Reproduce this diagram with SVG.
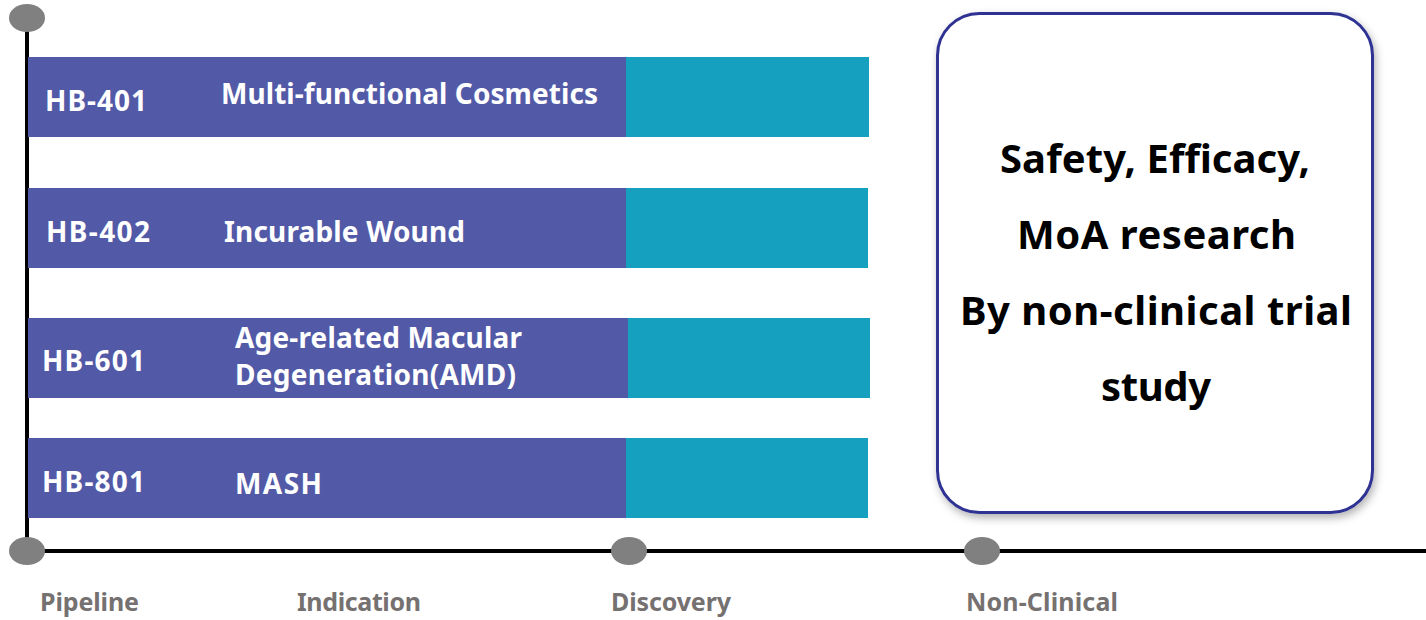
<svg xmlns="http://www.w3.org/2000/svg" width="1426" height="620" viewBox="0 0 1426 620">
<defs>
<style>
.bar{fill:#525AA7}
.teal{fill:#16A0BF}
.code{font-family:"Noto Sans","Open Sans",sans-serif;font-weight:bold;font-size:28px;fill:#fff}
.ind{font-family:"Noto Sans","Open Sans",sans-serif;font-weight:bold;font-size:28px;fill:#fff}
.axis{font-family:"Noto Sans","Open Sans",sans-serif;font-weight:bold;font-size:25px;fill:#767171}
.big{font-family:"Noto Sans","Open Sans",sans-serif;font-weight:bold;font-size:40px;fill:#000}
.dot{fill:#808080}
.line{stroke:#000;stroke-width:4;fill:none}
</style>
<filter id="sh" x="-10%" y="-10%" width="120%" height="120%">
<feDropShadow dx="2" dy="4" stdDeviation="4" flood-color="#000" flood-opacity="0.3"/>
</filter>
</defs>
<rect width="1426" height="620" fill="#fff"/>
<g id="connectors">
<line class="line" x1="27" y1="18" x2="27" y2="551"/>
<line class="line" x1="27" y1="551" x2="1426" y2="551"/>
</g>
<g id="axis-points">
<ellipse class="dot" cx="27" cy="18" rx="18" ry="14"/>
<ellipse class="dot" cx="27" cy="551" rx="18" ry="14"/>
<ellipse class="dot" cx="629" cy="551" rx="18" ry="14"/>
<ellipse class="dot" cx="982" cy="551" rx="18" ry="14"/>
</g>
<g id="row-hb401">
<rect class="bar" x="28" y="57" width="598" height="80"/>
<rect class="teal" x="626" y="57" width="243" height="80"/>
<text class="code" x="45" y="111" textLength="102" lengthAdjust="spacing">HB-401</text>
<text class="ind" x="221" y="104" textLength="377" lengthAdjust="spacing">Multi-functional Cosmetics</text>
</g>
<g id="row-hb402">
<rect class="bar" x="28" y="188" width="598" height="80"/>
<rect class="teal" x="626" y="188" width="242" height="80"/>
<text class="code" x="46" y="242" textLength="104" lengthAdjust="spacing">HB-402</text>
<text class="ind" x="224" y="242" textLength="241" lengthAdjust="spacing">Incurable Wound</text>
</g>
<g id="row-hb601">
<rect class="bar" x="28" y="318" width="600" height="80"/>
<rect class="teal" x="628" y="318" width="242" height="80"/>
<text class="code" x="42" y="371" textLength="103" lengthAdjust="spacing">HB-601</text>
<text class="ind" x="235" y="348" textLength="287" lengthAdjust="spacing">Age-related Macular</text>
<text class="ind" x="235" y="385" textLength="281" lengthAdjust="spacing">Degeneration(AMD)</text>
</g>
<g id="row-hb801">
<rect class="bar" x="28" y="438" width="598" height="80"/>
<rect class="teal" x="626" y="438" width="242" height="80"/>
<text class="code" x="42" y="492" textLength="103" lengthAdjust="spacing">HB-801</text>
<text class="ind" x="235" y="494" textLength="87" lengthAdjust="spacing">MASH</text>
</g>
<g id="nonclinical-box">
<rect x="937.5" y="13.5" width="435" height="499" rx="42" fill="#fff" stroke="#2E3192" stroke-width="3" filter="url(#sh)"/>
<text class="big" x="1000" y="173" textLength="310" lengthAdjust="spacing">Safety, Efficacy,</text>
<text class="big" x="1017" y="249" textLength="279" lengthAdjust="spacing">MoA research</text>
<text class="big" x="960" y="325" textLength="392" lengthAdjust="spacing">By non-clinical trial</text>
<text class="big" x="1101" y="401" textLength="110" lengthAdjust="spacing">study</text>
</g>
<g id="axis-labels">
<text class="axis" x="40" y="611" textLength="99" lengthAdjust="spacing">Pipeline</text>
<text class="axis" x="297" y="611" textLength="124" lengthAdjust="spacing">Indication</text>
<text class="axis" x="611" y="611" textLength="120" lengthAdjust="spacing">Discovery</text>
<text class="axis" x="966" y="611" textLength="152" lengthAdjust="spacing">Non-Clinical</text>
</g>
</svg>
